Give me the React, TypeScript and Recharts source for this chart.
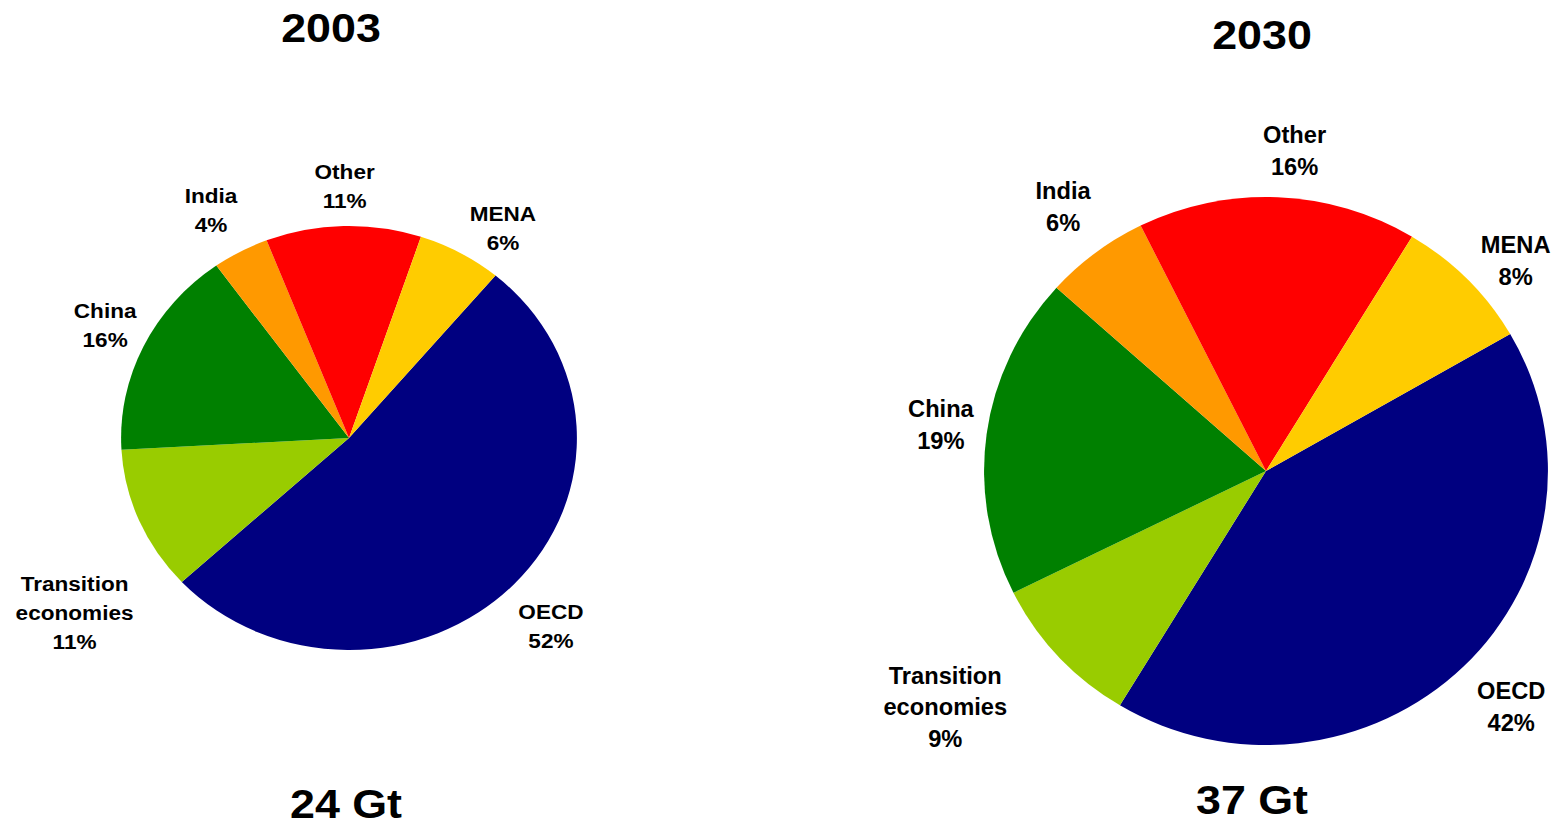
import React from 'react';
import { PieChart, Pie, Cell } from 'recharts';

// shares of energy-related CO2 emissions by region (%)
const REGIONS = ['OECD', 'Transition economies', 'China', 'India', 'Other', 'MENA'];
const COLORS = ['#000080', '#99CC00', '#008000', '#FF9900', '#FF0000', '#FFCC00'];
const SHARE_2003 = [52, 11, 16, 4, 11, 6];
const SHARE_2030 = [42, 9, 19, 6, 16, 8];
const YEARS = ['2003', '2030'];
const TOTALS = ['24 Gt', '37 Gt'];

const FONT = '"Liberation Sans", Arial, Helvetica, sans-serif';

let ctx: CanvasRenderingContext2D | null = null;
const textWidth = (s: string, size: number) => {
  if (!ctx) ctx = document.createElement('canvas').getContext('2d');
  if (!ctx) return s.length * size * 0.6;
  ctx.font = `bold ${size}px ${FONT}`;
  return ctx.measureText(s).width;
};

// manual label tweaks (like dragged labels in the original), keyed by region
type Adjust = Record<string, { angle?: number; radius?: number; dx?: number; dy?: number }>;

// Excel-like "outside end" labels: box sits just outside the slice edge
const makeLabel = (fontSize: number, gap: number, adjust: Adjust) => (props: any) => {
  const { cx, cy, midAngle, outerRadius, name, value } = props;
  const lines = [...String(name).split(' '), `${value}%`];
  const lineH = fontSize * 1.38;
  const cap = fontSize * 0.72;
  const hw = Math.max(...lines.map((l) => textWidth(l, fontSize))) / 2;
  const hh = (lineH * (lines.length - 1) + cap) / 2;
  const adj = adjust[name] || {};
  const a = ((midAngle + (adj.angle || 0)) * Math.PI) / 180;
  const cos = Math.cos(a);
  const sin = Math.sin(a);
  const d = outerRadius + gap + Math.abs(cos) * hw + Math.abs(sin) * hh + (adj.radius || 0);
  const x = cx + cos * d + (adj.dx || 0);
  const y = cy - sin * d + (adj.dy || 0);
  return (
    <text
      x={x}
      y={y - hh + cap}
      textAnchor="middle"
      fontSize={fontSize}
      fontWeight="bold"
      fontFamily={FONT}
      fill="#000"
    >
      {lines.map((l, i) => (
        <tspan key={i} x={x} dy={i === 0 ? 0 : lineH}>
          {l}
        </tspan>
      ))}
    </text>
  );
};

interface BlockProps {
  shares: number[];
  left: number;
  width: number;
  cx: number;
  cy: number;
  radius: number;
  stretch: number;
  startAngle: number;
  fontSize: number;
  gap: number;
  adjust: Adjust;
}

const PieBlock: React.FC<BlockProps> = ({ shares, left, width, cx, cy, radius, stretch, startAngle, fontSize, gap, adjust }) => {
  const data = REGIONS.map((name, i) => ({ name, value: shares[i] }));
  return (
    <div
      style={{
        position: 'absolute',
        left,
        top: 0,
        width,
        height: 826,
        transform: `scaleX(${stretch})`,
        transformOrigin: `${cx}px ${cy}px`,
      }}
    >
      <PieChart width={width} height={826} margin={{ top: 0, right: 0, bottom: 0, left: 0 }} style={{ overflow: 'visible' }}>
        <Pie
          data={data}
          dataKey="value"
          nameKey="name"
          cx={cx}
          cy={cy}
          outerRadius={radius}
          startAngle={startAngle}
          endAngle={startAngle - 360}
          stroke="none"
          label={makeLabel(fontSize, gap, adjust)}
          labelLine={false}
          isAnimationActive={false}
        >
          {data.map((d, i) => (
            <Cell key={d.name} fill={COLORS[i]} />
          ))}
        </Pie>
      </PieChart>
    </div>
  );
};

const Title: React.FC<{ text: string; cx: number; baseline: number }> = ({ text, cx, baseline }) => (
  <div
    style={{
      position: 'absolute',
      left: cx - 150,
      top: baseline - 33.86,
      width: 300,
      textAlign: 'center',
      fontFamily: FONT,
      fontWeight: 'bold',
      fontSize: 40,
      lineHeight: '40px',
      color: '#000',
      transform: 'scaleX(1.12)',
    }}
  >
    {text}
  </div>
);

export default function App() {
  return (
    <div style={{ position: 'absolute', left: 0, top: 0, width: 1556, height: 826, background: '#fff', overflow: 'hidden' }}>
      <Title text={YEARS[0]} cx={331} baseline={42} />
      <Title text={YEARS[1]} cx={1262} baseline={49} />
      <PieBlock
        shares={SHARE_2003}
        left={0}
        width={700}
        cx={349}
        cy={438}
        radius={212}
        stretch={1.075}
        startAngle={50}
        fontSize={21}
        gap={13}
        adjust={{
          'Transition economies': { angle: 11.4, radius: 18.5 },
          India: { dx: -6.5, dy: -3 },
          MENA: { dx: 16.7, dy: 16 },
          China: { dx: 8.4 },
          OECD: { dx: -2, dy: 7 },
          Other: { dx: 2, dy: -4 },
        }}
      />
      <PieBlock
        shares={SHARE_2030}
        left={790}
        width={766}
        cx={476}
        cy={471}
        radius={274}
        stretch={1.029}
        startAngle={30}
        fontSize={23}
        gap={15}
        adjust={{
          'Transition economies': { angle: -5.5, radius: 33.5, dx: 3, dy: -2 },
          Other: { dx: 14.6, dy: -6 },
          India: { dx: -1, dy: -6 },
          MENA: { dx: 6.8, dy: 21 },
          China: { dx: 5, dy: -2 },
          OECD: { dx: 7.8 },
        }}
      />
      <Title text={TOTALS[0]} cx={346} baseline={818} />
      <Title text={TOTALS[1]} cx={1252} baseline={814} />
    </div>
  );
}
